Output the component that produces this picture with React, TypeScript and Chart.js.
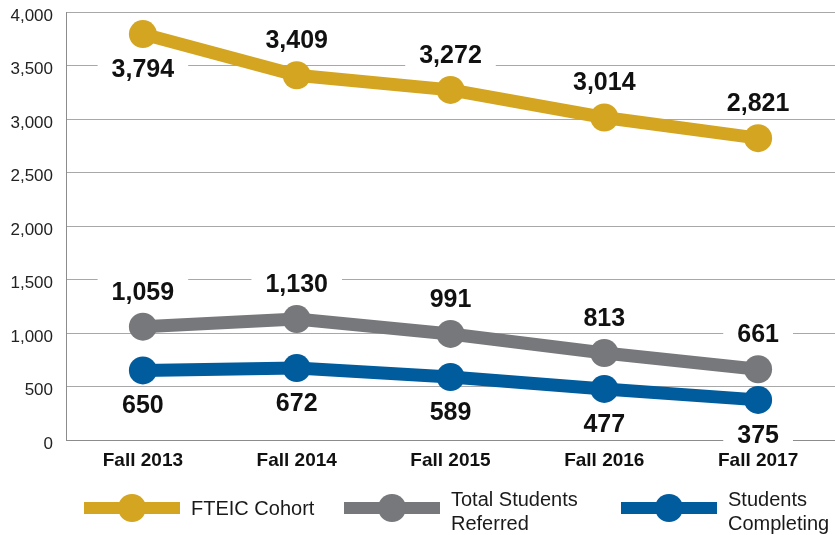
import React, { useEffect, useRef } from "react";
import { Chart, registerables } from "chart.js";

Chart.register(...registerables);

const categories = ["Fall 2013", "Fall 2014", "Fall 2015", "Fall 2016", "Fall 2017"];
const fteicCohort = [3794, 3409, 3272, 3014, 2821];
const totalReferred = [1059, 1130, 991, 813, 661];
const studentsCompleting = [650, 672, 589, 477, 375];
const fteicLabelSide = ["below", "above", "above", "above", "above"];
const referredLabelSide = ["above", "above", "above", "above", "above"];
const completingLabelSide = ["below", "below", "below", "below", "below"];
const seriesNames = [["FTEIC Cohort"], ["Total Students", "Referred"], ["Students", "Completing"]];
const yMin = 0;
const yMax = 4000;
const yStep = 500;

const GOLD = "#D4A521";
const GRAY = "#77787B";
const BLUE = "#005C9D";

const fmt = (v: number) => v.toLocaleString("en-US");

const labelPlugin = {
  id: "valueLabels",
  afterDatasetsDraw(chart: any) {
    const ctx = chart.ctx;
    ctx.save();
    ctx.font = "bold 25px 'Liberation Sans', Arial, sans-serif";
    ctx.textAlign = "center";
    ctx.textBaseline = "middle";
    chart.data.datasets.forEach((ds: any, di: number) => {
      const meta = chart.getDatasetMeta(di);
      meta.data.forEach((pt: any, i: number) => {
        const side = ds.labelSide[i];
        const y = pt.y + (side === "above" ? -35 : 35);
        const txt = fmt(ds.data[i]);
        const w = ctx.measureText(txt).width;
        ctx.fillStyle = "#ffffff";
        ctx.fillRect(pt.x - w / 2 - 14, y - 15, w + 28, 30);
        ctx.fillStyle = "#111111";
        ctx.fillText(txt, pt.x, y + 1);
      });
    });
    ctx.restore();
  },
};

const legendPlugin = {
  id: "customLegend",
  afterDraw(chart: any) {
    const ctx = chart.ctx;
    const starts = [84, 344, 621];
    const colors = [GOLD, GRAY, BLUE];
    ctx.save();
    seriesNames.forEach((lines, i) => {
      const x = starts[i];
      const cy = 508;
      ctx.strokeStyle = colors[i];
      ctx.lineWidth = 12;
      ctx.beginPath();
      ctx.moveTo(x, cy);
      ctx.lineTo(x + 96, cy);
      ctx.stroke();
      ctx.fillStyle = colors[i];
      ctx.beginPath();
      ctx.arc(x + 48, cy, 14, 0, Math.PI * 2);
      ctx.fill();
      ctx.fillStyle = "#1a1a1a";
      ctx.font = "20px 'Liberation Sans', Arial, sans-serif";
      ctx.textAlign = "left";
      ctx.textBaseline = "alphabetic";
      if (lines.length === 1) {
        ctx.fillText(lines[0], x + 107, 515);
      } else {
        ctx.fillText(lines[0], x + 107, 506);
        ctx.fillText(lines[1], x + 107, 530);
      }
    });
    ctx.restore();
  },
};

export default function App() {
  const ref = useRef<HTMLCanvasElement>(null);
  useEffect(() => {
    if (!ref.current) return;
    const mk = (data: number[], color: string, side: string[]) => ({
      data,
      borderColor: color,
      backgroundColor: color,
      pointBackgroundColor: color,
      pointBorderWidth: 0,
      pointRadius: 14,
      borderWidth: 13,
      tension: 0,
      clip: false,
      labelSide: side,
    });
    const chart = new Chart(ref.current, {
      type: "line",
      data: {
        labels: categories,
        datasets: [
          mk(fteicCohort, GOLD, fteicLabelSide),
          mk(totalReferred, GRAY, referredLabelSide),
          mk(studentsCompleting, BLUE, completingLabelSide),
        ] as any,
      },
      options: {
        animation: false,
        responsive: false,
        layout: { autoPadding: false, padding: { top: 12, right: 0, left: 0, bottom: 0 } },
        plugins: { legend: { display: false }, tooltip: { enabled: false } },
        scales: {
          x: {
            offset: true,
            grid: { display: false, drawTicks: false },
            border: { display: true, color: "#8c8c8c", width: 1 },
            ticks: {
              padding: 9,
              color: "#111111",
              font: { family: "'Liberation Sans', Arial, sans-serif", size: 19, weight: "bold" },
            },
            afterFit: (s: any) => {
              s.height = 95;
              s.paddingLeft = 0;
              s.paddingRight = 0;
            },
          },
          y: {
            min: yMin,
            max: yMax,
            grid: { color: "#a8a8a8", lineWidth: 1, drawTicks: false },
            border: { display: true, color: "#8c8c8c", width: 1 },
            ticks: {
              stepSize: yStep,
              padding: 13,
              labelOffset: 4,
              color: "#222222",
              font: { family: "'Liberation Sans', Arial, sans-serif", size: 17 },
              callback: (v: any) => fmt(Number(v)),
            },
            afterFit: (s: any) => {
              s.width = 66;
              s.paddingTop = 0;
              s.paddingBottom = 0;
            },
          },
        },
      } as any,
      plugins: [labelPlugin, legendPlugin],
    });
    return () => chart.destroy();
  }, []);
  return (
    <div style={{ position: "fixed", left: 0, top: 0, width: 835, height: 535, background: "#fff" }}>
      <canvas ref={ref} width={835} height={535} />
    </div>
  );
}
